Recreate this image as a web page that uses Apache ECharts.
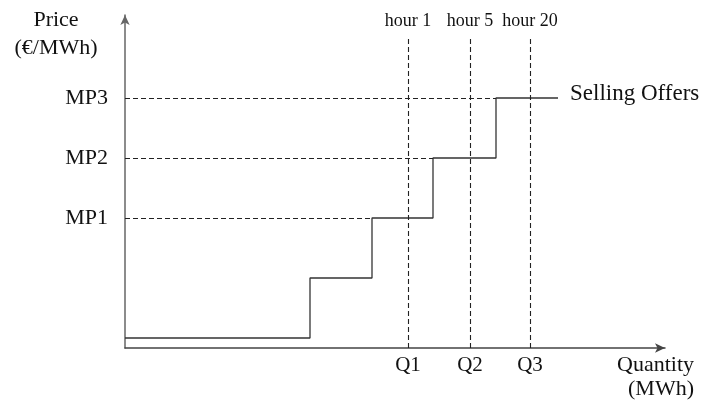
<!DOCTYPE html>
<html>
<head>
<meta charset="utf-8">
<script src="https://cdn.jsdelivr.net/npm/echarts@6/dist/echarts.min.js"></script>
<style>html,body{margin:0;padding:0;background:#fff}#c{width:702px;height:407px}</style>
</head>
<body>
<div id="c"></div>
<script>
// Step offer curve (quantity, price) in arbitrary units
const stepQuantity = [0, 18.5, 24.7, 30.8, 37.1, 43.3];
const stepPrice    = [1, 7, 13, 19, 25, 25];
// Market prices
const priceLevels = [13, 19, 25];
const priceLabels = ['MP1', 'MP2', 'MP3'];
const priceLineEnd = [24.7, 30.8, 37.1];
// Quantities at hours
const quantities = [28.3, 34.5, 40.5];
const quantityLabels = ['Q1', 'Q2', 'Q3'];
const hourLabels = ['hour 1', 'hour 5', 'hour 20'];
const hourLineTop = 31.1;
const xMax = 54, yMax = 33.3;

const FONT = 'Liberation Serif';
const chart = echarts.init(document.getElementById('c'));

const markData = [];
priceLevels.forEach((p, i) => {
  markData.push([{ coord: [0, p] }, { coord: [priceLineEnd[i], p] }]);
});
quantities.forEach((q, i) => {
  markData.push([
    { coord: [q, 0], label: { show: true, position: 'end', formatter: hourLabels[i], distance: 7,
        fontFamily: FONT, fontSize: 18, color: '#111' } },
    { coord: [q, hourLineTop] }
  ]);
});

chart.setOption({
  animation: false,
  grid: { left: 125, right: 37, top: 15, bottom: 59, outerBoundsMode: 'none' },
  xAxis: {
    type: 'value', min: 0, max: xMax,
    splitLine: { show: false }, axisTick: { show: false },
    axisLine: { lineStyle: { color: '#444', width: 1.5 }, symbol: ['none', 'arrow'], symbolSize: [7, 10] },
    axisLabel: {
      customValues: quantities,
      formatter: v => quantityLabels[quantities.indexOf(v)],
      fontFamily: FONT, fontSize: 21, color: '#111', margin: 7
    }
  },
  yAxis: {
    type: 'value', min: 0, max: yMax,
    splitLine: { show: false }, axisTick: { show: false },
    axisLine: { lineStyle: { color: '#666', width: 1.5 }, symbol: ['none', 'arrow'], symbolSize: [7, 10] },
    axisLabel: {
      customValues: priceLevels,
      formatter: v => priceLabels[priceLevels.indexOf(v)],
      fontFamily: FONT, fontSize: 22, color: '#111', margin: 17
    }
  },
  graphic: [
    { type: 'text', x: 56, y: 20, style: { text: 'Price', font: '22px "Liberation Serif"', fill: '#111', align: 'center', verticalAlign: 'middle' } },
    { type: 'text', x: 56, y: 48, style: { text: '(€/MWh)', font: '22px "Liberation Serif"', fill: '#111', align: 'center', verticalAlign: 'middle' } },
    { type: 'text', x: 694, y: 365, style: { text: 'Quantity', font: '22px "Liberation Serif"', fill: '#111', align: 'right', verticalAlign: 'middle' } },
    { type: 'text', x: 694, y: 389, style: { text: '(MWh)', font: '22px "Liberation Serif"', fill: '#111', align: 'right', verticalAlign: 'middle' } }
  ],
  series: [{
    type: 'line',
    step: 'end',
    symbol: 'none',
    data: stepQuantity.map((q, i) => [q, stepPrice[i]]),
    endLabel: { show: true, formatter: 'Selling Offers', distance: 12, offset: [0, -4],
      fontFamily: FONT, fontSize: 23, color: '#111' },
    lineStyle: { color: '#333', width: 1.3 },
    markLine: {
      silent: true, symbol: 'none',
      label: { show: false },
      lineStyle: { color: '#222', width: 1.1, type: [5, 3] },
      data: markData
    }
  }]
});
</script>
</body>
</html>
